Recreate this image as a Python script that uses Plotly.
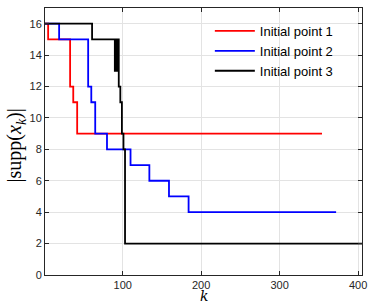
import plotly.graph_objects as go

# Data
k1 = [1, 5, 33, 37, 42, 44, 354]
s1 = [16, 15, 12, 11, 9, 9, 9]

k2 = [1, 19, 56, 60, 65, 80, 110, 134, 159, 184, 372]
s2 = [16, 15, 12, 11, 9, 8, 7, 6, 5, 4, 4]

k3 = [1, 61, 90, 91, 92, 93, 94, 95, 97, 99, 101, 103, 405]
s3 = [16, 15, 13, 15, 14, 13, 15, 12, 11, 9, 8, 2, 2]

names = ["Initial point 1", "Initial point 2", "Initial point 3"]
colors = ["#ff0000", "#0000ff", "#000000"]

x_ticks = [100, 200, 300, 400]
y_ticks = [0, 2, 4, 6, 8, 10, 12, 14, 16]

fig = go.Figure()
for kk, ss, nm, c in zip([k1, k2, k3], [s1, s2, s3], names, colors):
    fig.add_trace(go.Scatter(x=kk, y=ss, mode="lines", name=nm,
                             line=dict(color=c, width=1.8, shape="hv")))

axis_common = dict(showgrid=True, gridcolor="#e3e3e3", gridwidth=1,
                   showline=True, linecolor="#262626", linewidth=1,
                   mirror="ticks", ticks="inside", ticklen=4, tickcolor="#262626",
                   zeroline=False,
                   tickfont=dict(family="Liberation Sans, Arial", size=11, color="#262626"))

fig.update_xaxes(range=[1, 405], tickvals=x_ticks, **axis_common)
fig.update_yaxes(range=[0, 17], tickvals=y_ticks, **axis_common)

fig.update_layout(
    width=374, height=303,
    margin=dict(l=45, r=12, t=8, b=28),
    paper_bgcolor="white", plot_bgcolor="white",
    showlegend=True,
    legend=dict(x=0.52, y=0.97, xanchor="left", yanchor="top",
                bgcolor="rgba(255,255,255,0)", borderwidth=0,
                font=dict(family="Liberation Sans, Arial", size=13, color="#000000"),
                tracegroupgap=0, itemwidth=40),
    annotations=[
        dict(text="<i>k</i>", x=0.5, y=-0.08, xref="paper", yref="paper",
             xanchor="center", yanchor="middle", showarrow=False,
             font=dict(family="DejaVu Serif, Liberation Serif", size=14, color="#000000")),
        dict(text="|supp(<i>x<sub>k</sub></i>)|", x=-0.09, y=0.487, xref="paper", yref="paper",
             xanchor="center", yanchor="middle", showarrow=False, textangle=-90,
             font=dict(family="Liberation Serif, DejaVu Serif", size=20, color="#000000")),
    ],
)

fig.write_html("out.html", config={"displayModeBar": False},
               post_script="document.body.style.margin='0';document.body.style.overflow='hidden';")
